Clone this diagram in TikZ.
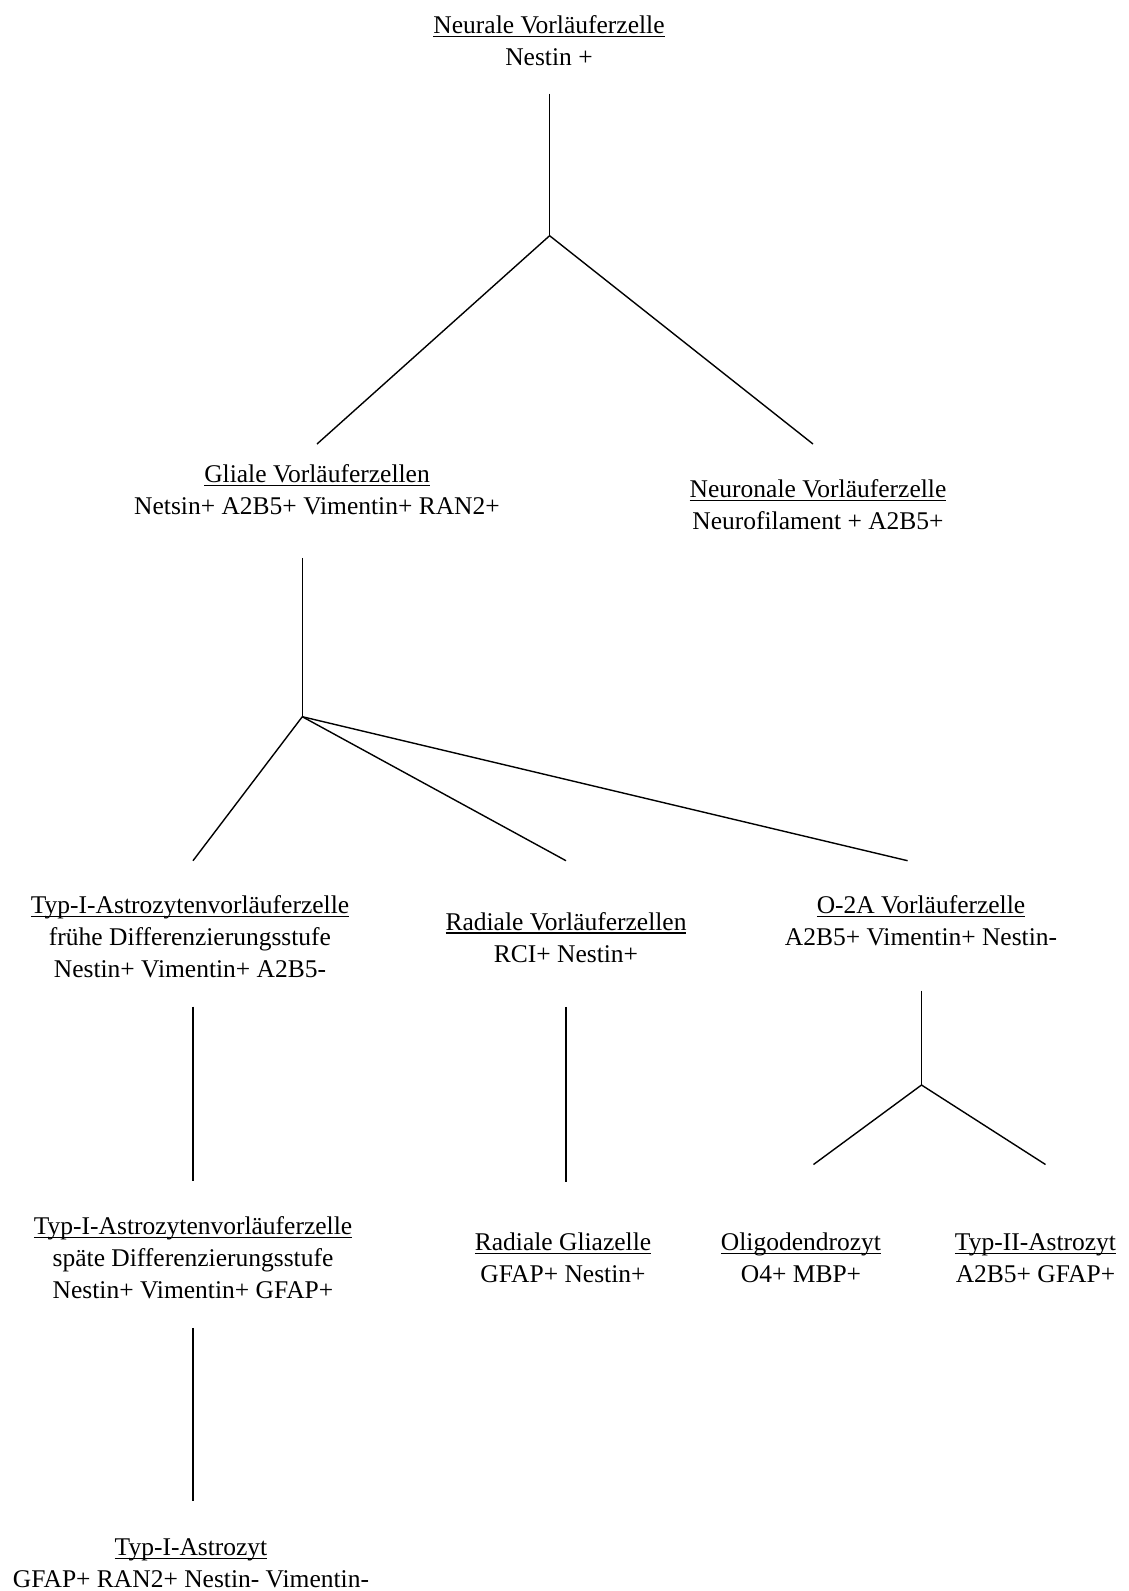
\documentclass[tikz,border=0pt]{standalone}
\usepackage{fontspec}
\setmainfont{Liberation Serif}
\usepackage{tikz}
\usetikzlibrary{positioning}

\newsavebox\titlebox
\newcommand{\ultitle}[1]{\sbox\titlebox{#1}\rule{0pt}{20pt}\rlap{\rule[-3.6pt]{\wd\titlebox}{1.2pt}}\usebox\titlebox}

\begin{document}
\begin{tikzpicture}[x=1pt, y=-1pt, line width=1.4pt,
  cell/.style = {align=center, inner sep=0pt, anchor=north, font=\fontsize{25.5pt}{32pt}\selectfont}]
\path[use as bounding box, fill=white] (0,0) rectangle (1129,1591);
\node[cell] (1) at (549,12.9) {\ultitle{Neurale Vorläuferzelle}\\Nestin +};
\node[cell] (2) [below=449.1pt of 1.north, xshift=-232pt] {\ultitle{Gliale Vorläuferzellen}\\Netsin+ A2B5+ Vimentin+ RAN2+};
\node[cell] (3) [below=464.1pt of 1.north, xshift=269pt] {\ultitle{Neuronale Vorläuferzelle}\\Neurofilament + A2B5+};
\node[cell] (4) [below=430.7pt of 2.north, xshift=-127pt] {\ultitle{Typ-I-Astrozytenvorläuferzelle}\\frühe Differenzierungsstufe\\Nestin+ Vimentin+ A2B5-};
\node[cell] (5) [below=447.3pt of 2.north, xshift=249pt] {\ultitle{Radiale Vorläuferzellen}\\RCI+ Nestin+};
\node[cell] (6) [below=430.7pt of 2.north, xshift=604pt] {\ultitle{O-2A Vorläuferzelle}\\A2B5+ Vimentin+ Nestin-};
\node[cell] (7) [below=321.3pt of 4.north, xshift=3pt] {\ultitle{Typ-I-Astrozytenvorläuferzelle}\\späte Differenzierungsstufe\\Nestin+ Vimentin+ GFAP+};
\node[cell] (8) [below=320.2pt of 5.north, xshift=-3pt] {\ultitle{Radiale Gliazelle}\\GFAP+ Nestin+};
\node[cell] (9) [below=336.8pt of 6.north, xshift=-120pt] {\ultitle{Oligodendrozyt}\\O4+ MBP+};
\node[cell] (10) [below=336.8pt of 6.north, xshift=114.5pt] {\ultitle{Typ-II-Astrozyt}\\A2B5+ GFAP+};
\node[cell] (11) [below=321pt of 7.north, xshift=-2pt] {\ultitle{Typ-I-Astrozyt}\\GFAP+ RAN2+ Nestin- Vimentin-};
\coordinate (b1) at (549.6,235.7);
\coordinate (b2) at (302.3,716.7);
\coordinate (b3) at (921.5,1085);
\draw[shorten <=27pt] (1.south -| b1) -- (b1);
\draw (b1) -- ([yshift=18pt]2.north);
\draw (b1) -- ([xshift=-5pt,yshift=33pt]3.north);
\draw[shorten <=42pt] (2.south -| b2) -- (b2);
\draw (b2) -- ([xshift=3pt,yshift=32pt]4.north);
\draw (b2) -- ([yshift=48.6pt]5.north);
\draw (b2) -- ([xshift=-13.4pt,yshift=32pt]6.north);
\draw[shorten <=28pt, shorten >=33pt] (4.south -| 7.north) -- (7.north);
\draw[shorten <=44pt, shorten >=48pt] (5.south) -- (5.south |- 8.north);
\draw[shorten <=44pt] (6.south -| b3) -- (b3);
\draw (b3) -- ([xshift=12.5pt,yshift=65pt]9.north);
\draw (b3) -- ([xshift=10pt,yshift=65pt]10.north);
\draw[shorten <=28pt, shorten >=34pt] (7.south) -- (7.south |- 11.north);
\end{tikzpicture}
\end{document}
